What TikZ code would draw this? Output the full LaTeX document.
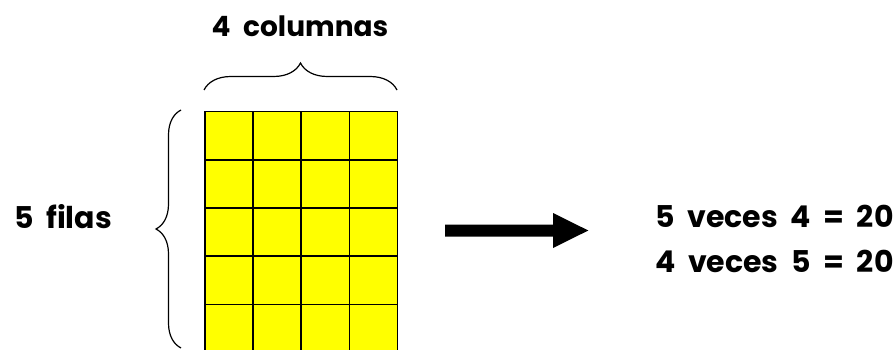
\documentclass[tikz,border=0pt]{standalone}
\usepackage{fontspec}
\setmainfont{Poppins}
\usetikzlibrary{decorations.pathreplacing}
\definecolor{cellyellow}{RGB}{255,255,0}
\begin{document}
\begin{tikzpicture}[x=1pt,y=-1pt,
  lbl/.style={inner sep=0pt,font=\fontsize{28}{32}\selectfont\bfseries,
    execute at begin node={\spaceskip=0.45em plus 0.1em\relax}},
  widelbl/.style={inner sep=0pt,font=\fontsize{30}{34}\selectfont\bfseries,
    execute at begin node={\spaceskip=0.42em plus 0.1em\relax}},
  cell/.style={fill=cellyellow,draw=black,line width=1.6pt},
  bracket/.style={draw=black,line width=1.2pt,decorate,decoration={brace,amplitude=#1}}]
\useasboundingbox (0,0) rectangle (896,350);
% grid
\begin{scope}
\clip (0,0) rectangle (896,350);
\foreach \i in {0,...,3}{
  \foreach \j in {0,...,4}{
    \node[cell,minimum width=48.2pt,minimum height=48.2pt,anchor=north west,inner sep=0pt]
      (c\i\j) at ({204+48.2*\i},{110.7+48.2*\j}) {};
  }
}
\end{scope}
% braces
\coordinate (tl) at (204,90);
\coordinate (tr) at (397,90);
\draw[bracket=27pt] (tl) -- (tr);
\coordinate (lb) at (181,348);
\coordinate (lt) at (181,110);
\draw[bracket=25pt] (lb) -- (lt);
% labels
\node[lbl] (cols) at (300,26) {4 columnas};
\node[widelbl,anchor=west] (rows) at (14,216.5) {5 filas};
\node[widelbl,anchor=west] (eq1) at (655,216.5) {5 veces 4 = 20};
\node[widelbl,anchor=west] (eq2) at (655,261.5) {4 veces 5 = 20};
% arrow
\fill[black] (445,224.5) -- (553,224.5) -- (553,213) -- (588.3,230.5) -- (553,248) -- (553,236.5) -- (445,236.5) -- cycle;
\end{tikzpicture}
\end{document}
